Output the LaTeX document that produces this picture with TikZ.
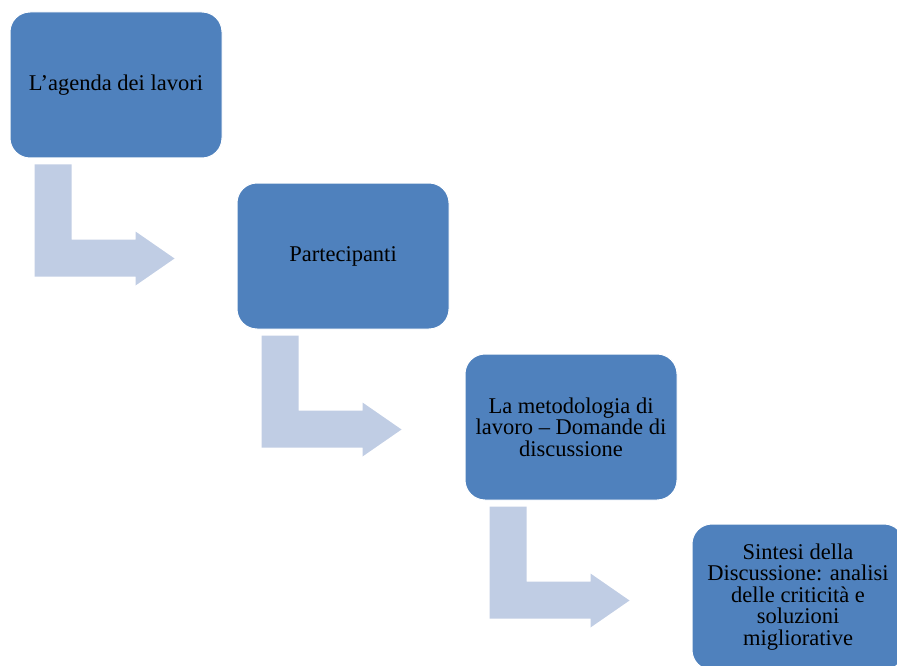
\documentclass[tikz,border=0pt]{standalone}
\usepackage{fontspec}
\setmainfont{Liberation Serif}
\definecolor{boxblue}{RGB}{79,129,189}
\definecolor{arrowblue}{RGB}{192,205,228}
\tikzset{
  stepbox/.style={fill=boxblue, draw=white, line width=1pt, rounded corners=20pt,
    minimum width=212pt, minimum height=146pt, align=center, inner sep=4pt,
    font=\fontsize{22.5}{21.5}\selectfont},
  bentarrow/.style={fill=arrowblue}
}
\begin{document}
\begin{tikzpicture}[x=1pt,y=-1pt]
        \useasboundingbox (0,0) rectangle (897,666);

        % Boxes
        \node[stepbox] (agenda) at (116,85) {L’agenda dei lavori};
        \node[stepbox] (partecipanti) at (343,256) {Partecipanti};
        \node[stepbox] (metodo) at (571,427) {La metodologia di\\lavoro – Domande di\\discussione};
        \node[stepbox] (sintesi) at (798,597) {Sintesi della\\Discussione: analisi\\delle criticità e\\soluzioni\\migliorative};

        % Bent arrows
        \fill[bentarrow] ([shift={(25,6)}]agenda.south west) -- ++(37,0) -- ++(0,75) -- ++(64,0)
            -- ++(0,-8) -- ++(39,27) -- ++(-39,27) -- ++(0,-9) -- ++(-101,0) -- cycle;
        \fill[bentarrow] ([shift={(25,6)}]partecipanti.south west) -- ++(37,0) -- ++(0,75) -- ++(64,0)
            -- ++(0,-8) -- ++(39,27) -- ++(-39,27) -- ++(0,-9) -- ++(-101,0) -- cycle;
        \fill[bentarrow] ([shift={(25,6)}]metodo.south west) -- ++(37,0) -- ++(0,75) -- ++(64,0)
            -- ++(0,-8) -- ++(39,27) -- ++(-39,27) -- ++(0,-9) -- ++(-101,0) -- cycle;
    \end{tikzpicture}
\end{document}
